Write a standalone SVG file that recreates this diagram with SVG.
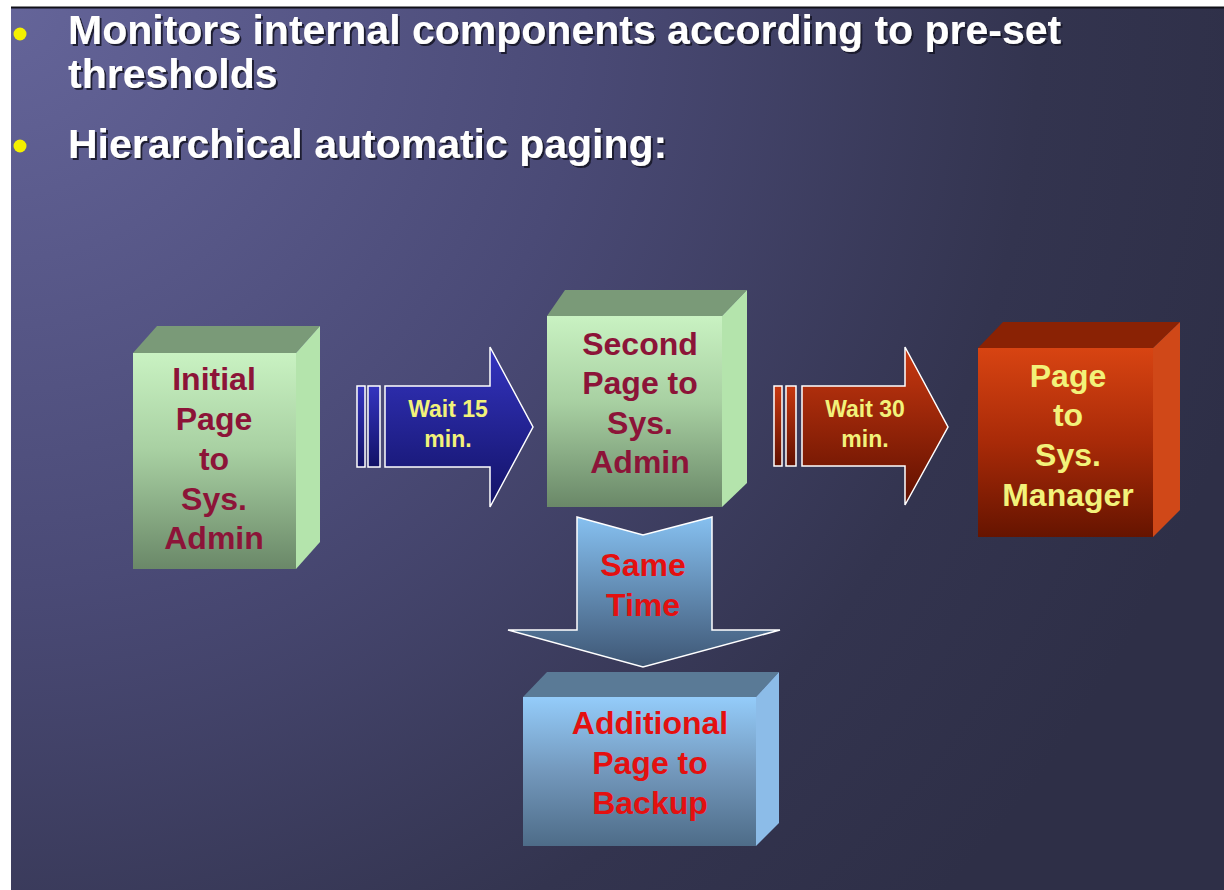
<svg xmlns="http://www.w3.org/2000/svg" width="1224" height="890" viewBox="0 0 1224 890">
<defs>
<radialGradient id="bg" cx="0" cy="0" r="1300" gradientUnits="userSpaceOnUse">
<stop offset="0" stop-color="#65659a"/>
<stop offset="0.45" stop-color="#4a4a76"/>
<stop offset="0.8" stop-color="#33344f"/>
<stop offset="1" stop-color="#2e2f47"/>
</radialGradient>
<linearGradient id="gFront" x1="0" y1="0" x2="0" y2="1">
<stop offset="0" stop-color="#c9f2c2"/>
<stop offset="0.45" stop-color="#a8d0a2"/>
<stop offset="1" stop-color="#6a8868"/>
</linearGradient>
<linearGradient id="rFront" x1="0" y1="0" x2="0" y2="1">
<stop offset="0" stop-color="#d84412"/>
<stop offset="0.5" stop-color="#a82a08"/>
<stop offset="1" stop-color="#661400"/>
</linearGradient>
<linearGradient id="bFront" x1="0" y1="0" x2="0" y2="1">
<stop offset="0" stop-color="#94ccfa"/>
<stop offset="0.5" stop-color="#7398bc"/>
<stop offset="1" stop-color="#4e6c88"/>
</linearGradient>
<linearGradient id="blueArrow" x1="0" y1="0" x2="0" y2="1">
<stop offset="0" stop-color="#3434c0"/>
<stop offset="1" stop-color="#121266"/>
</linearGradient>
<linearGradient id="redArrow" x1="0" y1="0" x2="0" y2="1">
<stop offset="0" stop-color="#c83810"/>
<stop offset="1" stop-color="#601000"/>
</linearGradient>
<linearGradient id="downArrow" x1="0" y1="0" x2="0" y2="1">
<stop offset="0" stop-color="#86c0f0"/>
<stop offset="1" stop-color="#3e5674"/>
</linearGradient>
<filter id="shadow" x="-5%" y="-20%" width="110%" height="150%">
<feDropShadow dx="2" dy="2" stdDeviation="0.6" flood-color="#151525" flood-opacity="0.9"/>
</filter>
</defs>
<style>
.title{font-family:"Liberation Sans",Arial,sans-serif;font-weight:bold;font-size:41px;fill:#ffffff;}
.node{font-family:"Liberation Sans",Arial,sans-serif;font-weight:bold;font-size:32px;text-anchor:middle;}
.lbl{font-family:"Liberation Sans",Arial,sans-serif;font-weight:bold;font-size:23px;text-anchor:middle;fill:#f2f27a;}
.maroon{fill:#8c1438;}
.yellow{fill:#f2f27a;}
.red{fill:#e41010;}
.outline{stroke:#ffffff;stroke-width:1.5;}
</style>
<rect x="0" y="0" width="1224" height="890" fill="#ffffff"/>
<rect x="11" y="7" width="1213" height="883" fill="url(#bg)"/>
<line x1="11" y1="7.5" x2="1224" y2="7.5" stroke="#101018" stroke-width="2"/>

<g id="header">
<circle cx="20" cy="34" r="6.5" fill="#f4f000"/>
<circle cx="20" cy="146" r="6.5" fill="#f4f000"/>
<g filter="url(#shadow)">
<text class="title" x="68" y="44">Monitors internal components according to pre-set</text>
<text class="title" x="68" y="88">thresholds</text>
<text class="title" x="68" y="158">Hierarchical automatic paging:</text>
</g>
</g>

<g id="connectors">
<g id="arrow-wait15">
<rect x="357" y="386" width="8" height="81" fill="url(#blueArrow)" class="outline"/>
<rect x="368" y="386" width="12" height="81" fill="url(#blueArrow)" class="outline"/>
<polygon points="385,386 490,386 490,347 533,427 490,507 490,467 385,467" fill="url(#blueArrow)" class="outline"/>
<text class="lbl" x="448" y="417">Wait 15</text>
<text class="lbl" x="448" y="447">min.</text>
</g>
<g id="arrow-wait30">
<rect x="774" y="386" width="8" height="80" fill="url(#redArrow)" class="outline"/>
<rect x="786" y="386" width="10" height="80" fill="url(#redArrow)" class="outline"/>
<polygon points="802,386 905,386 905,347 948,427 905,505 905,466 802,466" fill="url(#redArrow)" class="outline"/>
<text class="lbl" x="865" y="417">Wait 30</text>
<text class="lbl" x="865" y="447">min.</text>
</g>
<g id="arrow-same-time">
<polygon points="577,517 643,535 712,517 712,630 780,630 643,667 508,630 577,630" fill="url(#downArrow)" class="outline"/>
<text class="node red" x="643" y="576">Same</text>
<text class="node red" x="643" y="616">Time</text>
</g>
</g>

<g id="node-initial">
<polygon points="133,353 157,326 320,326 296,353" fill="#7a9a78"/>
<polygon points="296,353 320,326 320,542 296,569" fill="#b4e4ac"/>
<rect x="133" y="353" width="163" height="216" fill="url(#gFront)"/>
<text class="node maroon" x="214" y="390">Initial</text>
<text class="node maroon" x="214" y="430">Page</text>
<text class="node maroon" x="214" y="470">to</text>
<text class="node maroon" x="214" y="510">Sys.</text>
<text class="node maroon" x="214" y="549">Admin</text>
</g>

<g id="node-second">
<polygon points="547,316 565,290 747,290 722,316" fill="#7a9a78"/>
<polygon points="722,316 747,290 747,483 722,507" fill="#b4e4ac"/>
<rect x="547" y="316" width="175" height="191" fill="url(#gFront)"/>
<text class="node maroon" x="640" y="355">Second</text>
<text class="node maroon" x="640" y="394">Page to</text>
<text class="node maroon" x="640" y="434">Sys.</text>
<text class="node maroon" x="640" y="473">Admin</text>
</g>

<g id="node-manager">
<polygon points="978,348 1003,322 1180,322 1153,348" fill="#8a2204"/>
<polygon points="1153,348 1180,322 1180,510 1153,537" fill="#d04818"/>
<rect x="978" y="348" width="175" height="189" fill="url(#rFront)"/>
<text class="node yellow" x="1068" y="387">Page</text>
<text class="node yellow" x="1068" y="426">to</text>
<text class="node yellow" x="1068" y="466">Sys.</text>
<text class="node yellow" x="1068" y="506">Manager</text>
</g>

<g id="node-backup">
<polygon points="523,697 547,672 779,672 756,697" fill="#5a7a96"/>
<polygon points="756,697 779,672 779,823 756,846" fill="#8cbce8"/>
<rect x="523" y="697" width="233" height="149" fill="url(#bFront)"/>
<text class="node red" x="650" y="734">Additional</text>
<text class="node red" x="650" y="774">Page to</text>
<text class="node red" x="650" y="814">Backup</text>
</g>
</svg>
